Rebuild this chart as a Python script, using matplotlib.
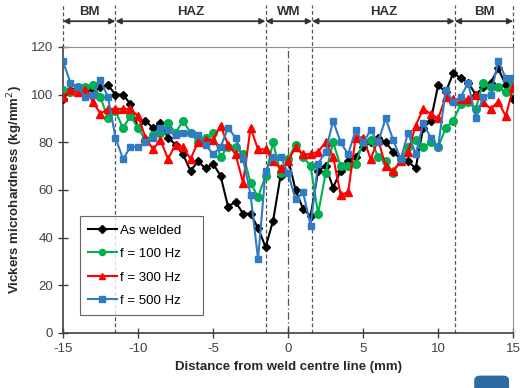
import numpy as np
import matplotlib.pyplot as plt
from matplotlib.patches import FancyBboxPatch

plt.rcParams['font.family'] = ['Liberation Sans', 'DejaVu Sans']
plt.rcParams['axes.unicode_minus'] = False

# distance from weld centre line (mm)
dist = np.arange(-15, 15.01, 0.5)

as_welded = [98, 102, 103, 102, 102, 103, 104, 100, 100, 96,
             86, 89, 86, 88, 82, 79, 75, 68, 72, 69,
             71, 66, 53, 55, 50, 50, 44, 36, 47, 66,
             73, 60, 52, 49, 68, 70, 61, 68, 72, 74,
             78, 80, 82, 80, 76, 73, 72, 69, 86, 89,
             104, 101, 109, 107, 105, 100, 103, 105, 111, 104, 98]

f100 = [102, 101, 103, 103, 104, 99, 90, 93, 86, 91,
        86, 81, 83, 84, 88, 84, 89, 84, 80, 82,
        84, 74, 78, 78, 75, 63, 57, 66, 80, 67,
        73, 79, 74, 70, 50, 67, 80, 70, 70, 71,
        80, 81, 74, 72, 67, 73, 78, 81, 78, 80,
        78, 86, 89, 96, 97, 94, 105, 103, 103, 101, 105]

f300 = [99, 102, 101, 102, 97, 92, 94, 94, 94, 94,
        91, 82, 77, 81, 73, 79, 78, 73, 80, 81,
        81, 87, 79, 75, 63, 86, 77, 77, 72, 69,
        72, 78, 75, 75, 76, 80, 74, 58, 59, 82,
        82, 73, 81, 70, 68, 72, 76, 87, 94, 92,
        90, 99, 98, 98, 98, 100, 97, 94, 97, 91, 103]

f500 = [114, 105, 103, 99, 100, 106, 99, 82, 73, 78,
        78, 80, 82, 86, 85, 83, 84, 84, 83, 79,
        75, 78, 86, 82, 73, 58, 31, 68, 74, 74,
        67, 56, 59, 45, 71, 76, 89, 80, 75, 85,
        80, 85, 80, 90, 81, 73, 84, 75, 88, 82,
        78, 102, 97, 99, 105, 90, 99, 100, 114, 107, 107]

zone_edges = [-15, -11.5, -1.5, 1.6, 11.1, 15]
zone_names = ["BM", "HAZ", "WM", "HAZ", "BM"]

fig = plt.figure(figsize=(5.2, 3.88), dpi=100)
ax = fig.add_axes([0.121, 0.142, 0.866, 0.737])

ax.plot(dist, as_welded, color='black', marker='D', ms=4.5, lw=1.5, label='As welded', zorder=3)
ax.plot(dist, f100, color='#00B050', marker='o', ms=5.5, lw=1.5, label='f = 100 Hz', zorder=3)
ax.plot(dist, f300, color='#FF0000', marker='^', ms=5.5, lw=1.5, label='f = 300 Hz', zorder=3)
ax.plot(dist, f500, color='#2F7BC4', marker='s', ms=5, lw=1.5, label='f = 500 Hz', zorder=3)

ax.set_xlim(-15, 15)
ax.set_ylim(0, 120)
ax.set_xticks(np.arange(-15, 16, 5))
ax.set_yticks(np.arange(0, 121, 20))
ax.tick_params(direction='inout', length=7, width=1, colors='#404040', labelsize=9.5)
ax.tick_params(axis='x', pad=4)

for s in ['top', 'right']:
    ax.spines[s].set_color('#909090')
for s in ['left', 'bottom']:
    ax.spines[s].set_color('#404040')
    ax.spines[s].set_linewidth(1.2)

ax.set_xlabel('Distance from weld centre line (mm)', fontsize=9.5, fontweight='bold', color='#262626')
ax.set_ylabel('Vickers microhardness (kg/mm$^2$)', fontsize=9.5, fontweight='bold', color='#262626')

# zone boundaries
top = 137.6
for e in zone_edges:
    lo = 120 if e in (-15, 15) else 0
    ax.plot([e, e], [lo, top], color='#555555', lw=0.9, ls=(0, (3, 2)), clip_on=False, zorder=1)
ax.plot([0, 0], [0, 120], color='#555555', lw=0.9, ls=(0, (6, 2, 1, 2)), zorder=1)

for i, name in enumerate(zone_names):
    a, b = zone_edges[i], zone_edges[i + 1]
    ax.annotate('', xy=(a, 130.8), xytext=(b, 130.8), annotation_clip=False,
                arrowprops=dict(arrowstyle='<|-|>', color='#333333', lw=1.3,
                                shrinkA=0, shrinkB=0, mutation_scale=8))
    ax.text((a + b) / 2, 134.6, name, ha='center', va='center', fontsize=9.5,
            fontweight='bold', color='#333333')

leg = ax.legend(loc='lower left', bbox_to_anchor=(0.038, 0.063, 0.273, 0.34), mode='expand',
                borderaxespad=0, fontsize=9.5, frameon=True, fancybox=False,
                edgecolor='#404040', handlelength=2.2, handletextpad=0.2,
                labelspacing=0.85, borderpad=0.6, markerscale=0.8)
leg.get_frame().set_linewidth(0.8)

# small button in the corner of the screenshot
fig.patches.append(FancyBboxPatch((0.912, -0.02), 0.067, 0.052, boxstyle='round,pad=0,rounding_size=0.012',
                                  transform=fig.transFigure, facecolor='#2D6CA2', edgecolor='none'))

fig.savefig('out.png', dpi=100)
